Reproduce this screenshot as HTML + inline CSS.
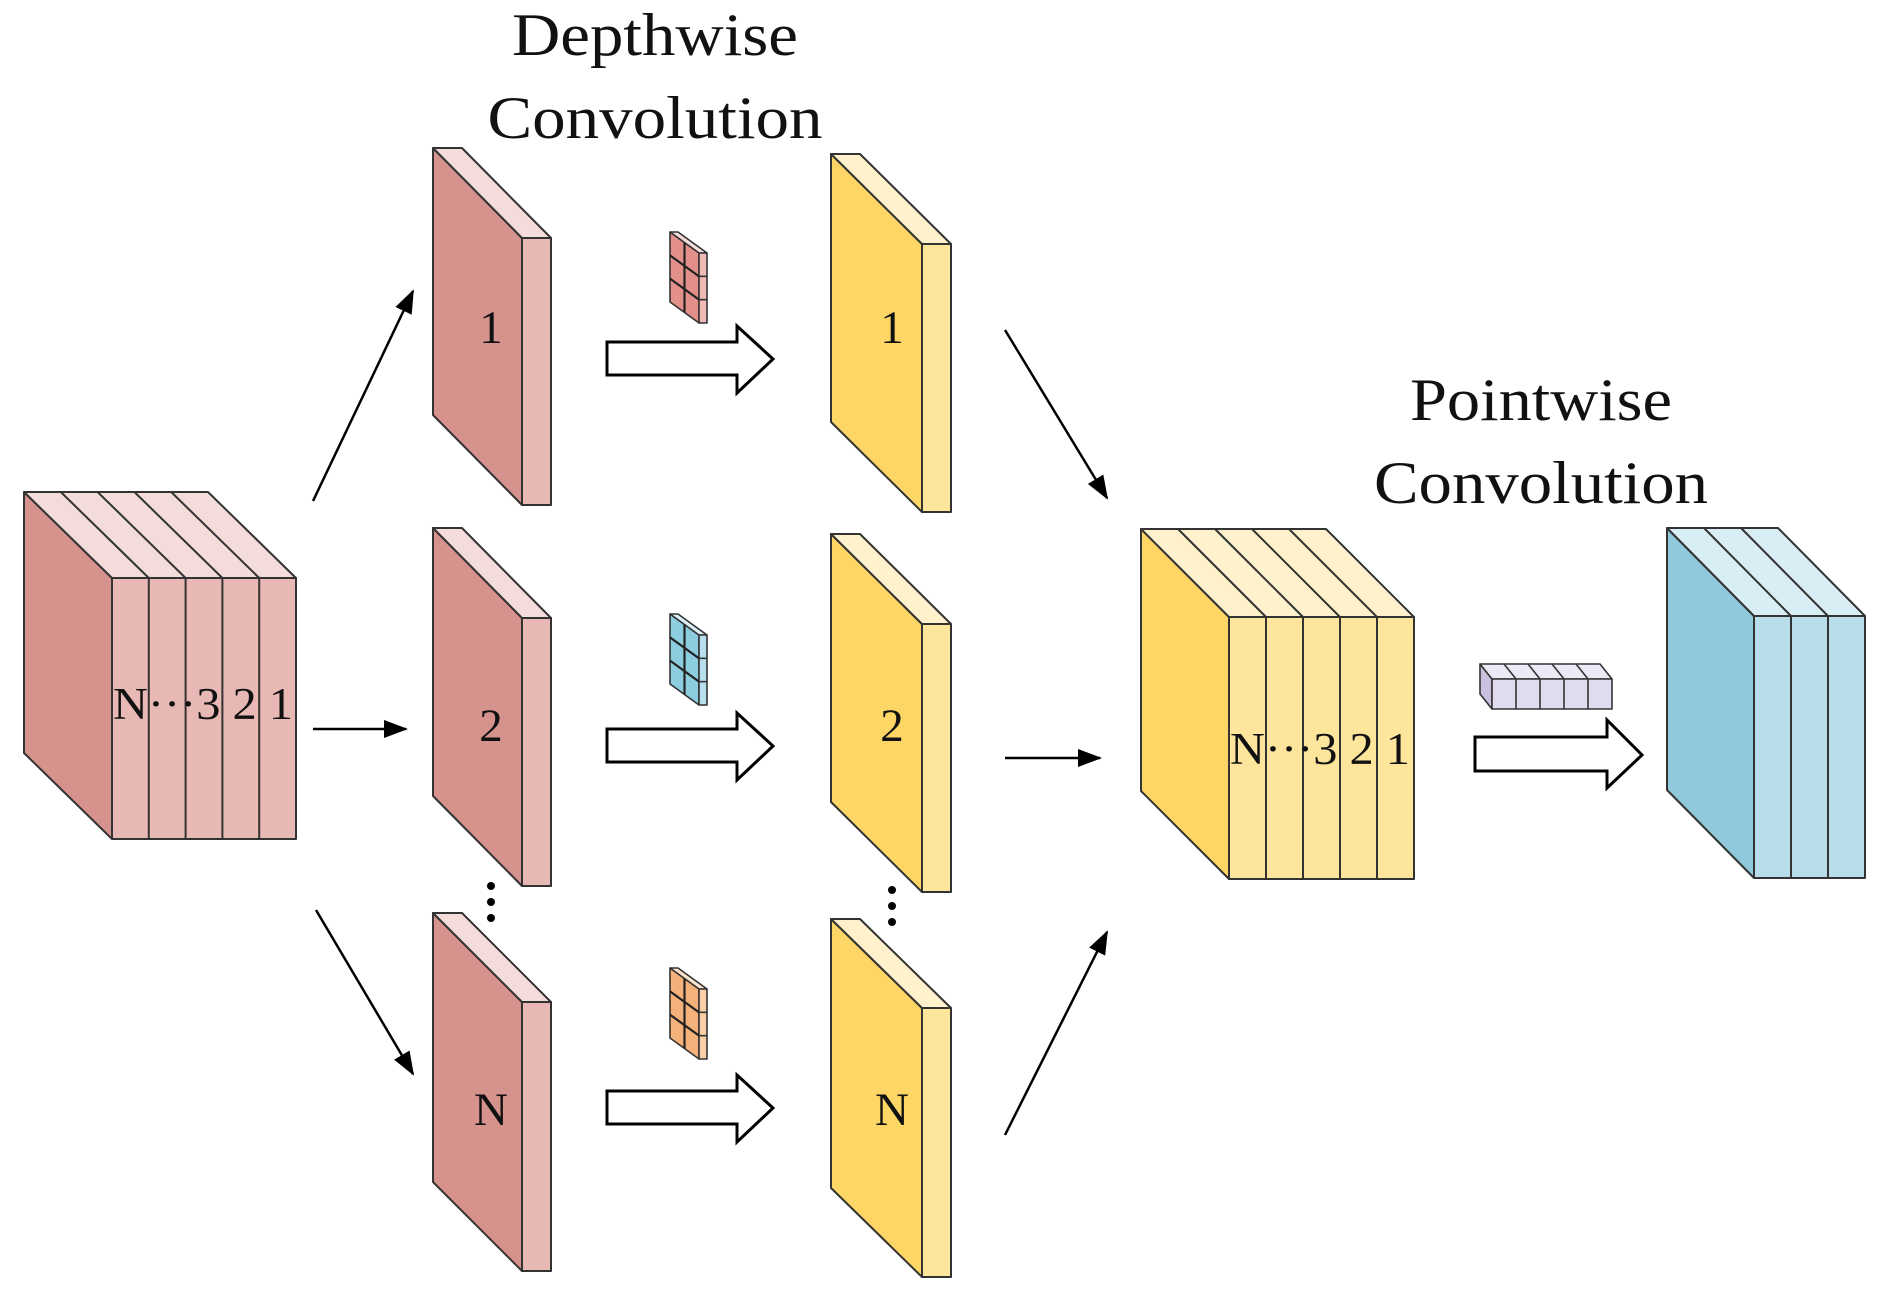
<!DOCTYPE html>
<html><head><meta charset="utf-8"><style>
html,body{margin:0;padding:0;background:#fff;}
svg{display:block;}
text{font-family:"Liberation Serif",serif;fill:#111;}
</style></head><body>
<svg id="s" width="1893" height="1299" viewBox="0 0 1893 1299" xmlns="http://www.w3.org/2000/svg">
<defs>
<marker id="ah" markerWidth="24" markerHeight="18" refX="22" refY="9" orient="auto" markerUnits="userSpaceOnUse" viewBox="0 0 24 18">
<path d="M0,0 L24,9 L0,18 z" fill="#000"/>
</marker>
</defs>
<g id="shapes"></g>
<!-- connectors -->
<g stroke="#000" stroke-width="2.5" fill="none" marker-end="url(#ah)">
<line x1="313" y1="501" x2="413" y2="291" marker-end="url(#ah)"/>
<line x1="313" y1="729" x2="406" y2="729" marker-end="url(#ah)"/>
<line x1="316" y1="910" x2="413" y2="1074" marker-end="url(#ah)"/>
<line x1="1005" y1="330" x2="1107" y2="498" marker-end="url(#ah)"/>
<line x1="1005" y1="758" x2="1100" y2="758" marker-end="url(#ah)"/>
<line x1="1005" y1="1135" x2="1107" y2="932" marker-end="url(#ah)"/>
</g>
<!-- open arrows -->
<g fill="#fff" stroke="#000" stroke-width="3">
<polygon points="607,342 737,342 737,326 773,359 737,393 737,375 607,375"/>
<polygon points="607,729 737,729 737,713 773,746 737,780 737,762 607,762"/>
<polygon points="607,1091 737,1091 737,1075 773,1108 737,1142 737,1124 607,1124"/>
<polygon points="1475,737 1607,737 1607,720 1642,755 1607,788 1607,771 1475,771"/>
</g>
<!-- labels -->
<g font-size="47" text-anchor="middle">
<text x="491" y="343">1</text>
<text x="491" y="741">2</text>
<text x="491" y="1125">N</text>
<text x="892" y="343">1</text>
<text x="892" y="741">2</text>
<text x="892" y="1125">N</text>
</g>
<g font-size="45">
<text x="113" y="719" textLength="180" lengthAdjust="spacingAndGlyphs">N···3 2 1</text>
<text x="1230" y="764" textLength="180" lengthAdjust="spacingAndGlyphs">N···3 2 1</text>
</g>
<g font-size="60" text-anchor="middle">
<text x="655" y="55" textLength="286" lengthAdjust="spacingAndGlyphs">Depthwise</text>
<text x="655" y="138" textLength="335" lengthAdjust="spacingAndGlyphs">Convolution</text>
<text x="1541" y="420" textLength="262" lengthAdjust="spacingAndGlyphs">Pointwise</text>
<text x="1541" y="503" textLength="334" lengthAdjust="spacingAndGlyphs">Convolution</text>
</g>
<g fill="#000">
<circle cx="491" cy="886" r="4"/><circle cx="491" cy="902" r="4"/><circle cx="491" cy="918" r="4"/>
<circle cx="892" cy="890" r="4"/><circle cx="892" cy="906" r="4"/><circle cx="892" cy="922" r="4"/>
</g>
</svg>
<script>
var NS="http://www.w3.org/2000/svg",g=document.getElementById("shapes");
function poly(pts,fill,sw){var p=document.createElementNS(NS,"polygon");p.setAttribute("points",pts.map(function(a){return a.join(",")}).join(" "));p.setAttribute("fill",fill);p.setAttribute("stroke","#333");p.setAttribute("stroke-width",sw||1.8);p.setAttribute("stroke-linejoin","round");g.appendChild(p);}
function line(a,b,sw,c){var l=document.createElementNS(NS,"line");l.setAttribute("x1",a[0]);l.setAttribute("y1",a[1]);l.setAttribute("x2",b[0]);l.setAttribute("y2",b[1]);l.setAttribute("stroke",c||"#333");l.setAttribute("stroke-width",sw||1.8);g.appendChild(l);}
function block(bx,by,dx,dy,n,w,h,c1,c2,c3,sw){
 var W=n*w;
 poly([[bx,by],[bx+dx,by+dy],[bx+dx,by+dy+h],[bx,by+h]],c1,sw);
 poly([[bx,by],[bx+W,by],[bx+dx+W,by+dy],[bx+dx,by+dy]],c3,sw);
 poly([[bx+dx,by+dy],[bx+dx+W,by+dy],[bx+dx+W,by+dy+h],[bx+dx,by+dy+h]],c2,sw);
 for(var i=1;i<n;i++){var x=bx+i*w;line([x,by],[x+dx,by+dy],sw);line([x+dx,by+dy],[x+dx,by+dy+h],sw);}
}
var P=["#d6928d","#e8b8b5","#f3dcda"],Y=["#fdd666","#fde59c","#fef1cb"],C=["#8fc9db","#b6dde8","#d9eef4"];
block(24,492,88,86,5,36.8,261,P[0],P[1],P[2],2);
block(433,148,89,90,1,29,267,P[0],P[1],P[2],2);
block(433,528,89,90,1,29,268,P[0],P[1],P[2],2);
block(433,913,89,89,1,29,269,P[0],P[1],P[2],2);
block(831,154,91,90,1,29,268,Y[0],Y[1],Y[2],2);
block(831,534,91,90,1,29,268,Y[0],Y[1],Y[2],2);
block(831,919,91,89,1,29,269,Y[0],Y[1],Y[2],2);
block(1141,529,88,88,5,37,262,Y[0],Y[1],Y[2],2);
block(1667,528,87,88,3,37,262,C[0],C[1],C[2],2);
function kernel(bx,by,cols){
 var dx=29,dy=21,w=8,h=70;
 block(bx,by,dx,dy,1,w,h,cols[0],cols[1],cols[2],1.6);
 for(var r=1;r<3;r++){var y=by+r*h/3;line([bx,y],[bx+dx,y+dy],2.2,"#222");line([bx+dx,y+dy],[bx+dx+w,y+dy],1.6);}
 line([bx+dx/2,by+dy/2],[bx+dx/2,by+dy/2+h],2.2,"#222");
}
kernel(670,232,["#e4908a","#eebab6","#f5dcda"]);
kernel(670,614,["#8ccde0","#b8e0ec","#dbf0f6"]);
kernel(670,968,["#f4b27a","#f8cfa6","#fbe4cc"]);
(function(){var bx=1480,by=664,dx=12,dy=15,w=24,h=30,n=5;
 block(bx,by,dx,dy,n,w,h,"#c9c0e0","#e0dbef","#ece8f5",1.6);})();
</script>
</body></html>
